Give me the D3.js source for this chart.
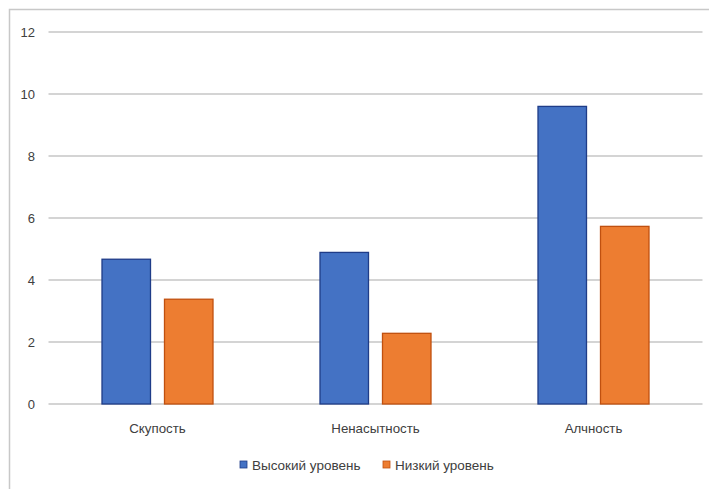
<!DOCTYPE html>
<html>
<head>
<meta charset="utf-8">
<script src="https://cdn.jsdelivr.net/npm/d3@7"></script>
<style>
  html, body { margin: 0; padding: 0; background: #fff; }
  svg text { font-family: "Liberation Sans", Arial, sans-serif; fill: #404040; }
</style>
</head>
<body>
<svg id="chart" width="709" height="489"></svg>
<script>
const categories = ["Скупость", "Ненасытность", "Алчность"];
const seriesNames = ["Высокий уровень", "Низкий уровень"];
const highLevel = [4.67, 4.89, 9.6];
const lowLevel = [3.38, 2.28, 5.73];
const yTicks = [0, 2, 4, 6, 8, 10, 12];

const fills = ["#4472C4", "#ED7D31"];
const strokes = ["#1F3C88", "#C0500F"];

const svg = d3.select("#chart");

// chart frame (top and left edges)
svg.append("path")
  .attr("d", "M9.5,489 V9.5 H709")
  .attr("fill", "none")
  .attr("stroke", "#c8c8c8")
  .attr("stroke-width", 1.5);

const margin = { left: 48.5, right: 6.5 };
const x = d3.scaleBand().domain(categories).range([margin.left, 709 - margin.right]).paddingInner(0).paddingOuter(0);
const y = d3.scaleLinear().domain([0, 12]).range([404, 32]);

// horizontal gridlines
svg.append("g")
  .selectAll("line")
  .data(yTicks)
  .join("line")
  .attr("x1", margin.left)
  .attr("x2", 709 - margin.right)
  .attr("y1", d => y(d))
  .attr("y2", d => y(d))
  .attr("stroke", "#c6c6c6")
  .attr("stroke-width", 1.5);

// y axis tick labels
const yAxis = d3.axisLeft(y).tickValues(yTicks).tickSize(0).tickPadding(0);
const yg = svg.append("g").attr("transform", "translate(35,0)").call(yAxis);
yg.select(".domain").remove();
yg.selectAll("text")
  .attr("font-size", 13)
  .attr("font-family", "Liberation Sans, Arial, sans-serif")
  .attr("fill", "#595959")
  .attr("dy", "0.35em");

// bars
const barW = 48.5;
const gap = 14;
const series = [highLevel, lowLevel];
series.forEach((vals, si) => {
  svg.append("g")
    .selectAll("rect")
    .data(vals)
    .join("rect")
    .attr("x", (d, i) => x(categories[i]) + x.bandwidth() / 2 - barW - gap / 2 + si * (barW + gap))
    .attr("y", d => y(d))
    .attr("width", barW)
    .attr("height", d => y(0) - y(d))
    .attr("fill", fills[si])
    .attr("stroke", strokes[si])
    .attr("stroke-width", 1.3);
});

// category labels
const xAxis = d3.axisBottom(x).tickSize(0).tickPadding(0);
const xg = svg.append("g").attr("transform", "translate(0,428)").call(xAxis);
xg.select(".domain").remove();
xg.selectAll("text")
  .attr("font-size", 13.3)
  .attr("font-family", "Liberation Sans, Arial, sans-serif")
  .attr("fill", "#404040")
  .attr("dy", "0.35em");

// legend
const legendPos = [240, 383];
const legend = svg.append("g");
seriesNames.forEach((name, i) => {
  legend.append("rect")
    .attr("x", legendPos[i])
    .attr("y", 461)
    .attr("width", 7)
    .attr("height", 7)
    .attr("fill", fills[i])
    .attr("stroke", strokes[i])
    .attr("stroke-width", 0.8);
  legend.append("text")
    .attr("x", legendPos[i] + 12)
    .attr("y", 465)
    .attr("dy", "0.35em")
    .attr("font-size", 13.5)
    .attr("fill", "#404040")
    .text(name);
});
</script>
</body>
</html>
